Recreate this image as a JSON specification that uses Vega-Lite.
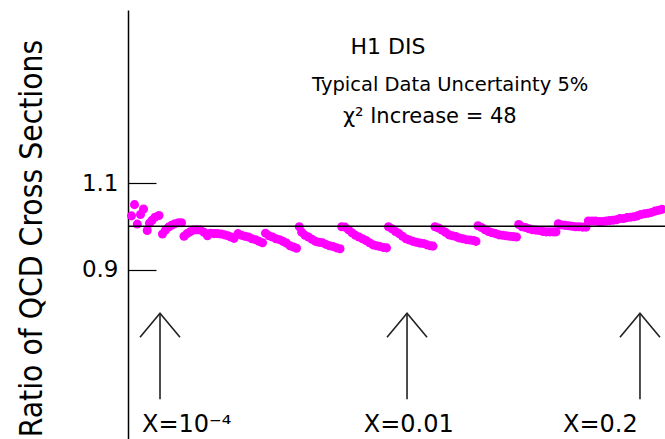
{
  "$schema": "https://vega.github.io/schema/vega-lite/v6.json",
  "autosize": "none",
  "width": 537,
  "height": 429,
  "padding": {"left": 128, "top": 10, "right": 0, "bottom": 0},
  "background": "white",
  "config": {"view": {"stroke": null}},
  "datasets": {
    "ratio": [
      {"u": 1.21, "r": 1.050}, {"u": 2.89, "r": 1.040}, {"u": 0.65, "r": 1.024}, {"u": 2.33, "r": 1.027}, {"u": 1.73, "r": 1.005}, {"u": 3.58, "r": 0.990},
      {"u": 4.00, "r": 1.007}, {"u": 4.47, "r": 1.014}, {"u": 5.03, "r": 1.021}, {"u": 5.77, "r": 1.025},
      {"u": 6.42, "r": 0.982}, {"u": 6.98, "r": 0.991}, {"u": 7.54, "r": 0.998}, {"u": 8.10, "r": 1.002}, {"u": 8.75, "r": 1.006}, {"u": 9.40, "r": 1.008}, {"u": 9.96, "r": 1.008},
      {"u": 10.43, "r": 0.977}, {"u": 10.99, "r": 0.983}, {"u": 11.55, "r": 0.987}, {"u": 12.20, "r": 0.991}, {"u": 12.85, "r": 0.992}, {"u": 13.50, "r": 0.991}, {"u": 14.15, "r": 0.986}, {"u": 14.80, "r": 0.978},
      {"u": 15.36, "r": 0.984}, {"u": 16.01, "r": 0.983}, {"u": 16.67, "r": 0.983}, {"u": 17.32, "r": 0.982}, {"u": 17.97, "r": 0.980}, {"u": 18.62, "r": 0.978}, {"u": 19.18, "r": 0.975}, {"u": 19.74, "r": 0.972},
      {"u": 20.48, "r": 0.983}, {"u": 21.14, "r": 0.979}, {"u": 21.79, "r": 0.977}, {"u": 22.44, "r": 0.975}, {"u": 23.09, "r": 0.971}, {"u": 23.74, "r": 0.969}, {"u": 24.39, "r": 0.965}, {"u": 25.05, "r": 0.962},
      {"u": 25.61, "r": 0.984}, {"u": 26.26, "r": 0.978}, {"u": 26.91, "r": 0.975}, {"u": 27.56, "r": 0.971}, {"u": 28.21, "r": 0.969}, {"u": 28.86, "r": 0.965}, {"u": 29.52, "r": 0.961}, {"u": 30.17, "r": 0.955}, {"u": 30.82, "r": 0.952}, {"u": 31.38, "r": 0.949},
      {"u": 31.90, "r": 0.999}, {"u": 32.35, "r": 0.986}, {"u": 32.96, "r": 0.979}, {"u": 33.61, "r": 0.975}, {"u": 34.26, "r": 0.970}, {"u": 34.92, "r": 0.965}, {"u": 35.57, "r": 0.963}, {"u": 36.22, "r": 0.962}, {"u": 36.87, "r": 0.958}, {"u": 37.52, "r": 0.955}, {"u": 38.18, "r": 0.953}, {"u": 38.83, "r": 0.950}, {"u": 39.48, "r": 0.948},
      {"u": 39.80, "r": 0.999}, {"u": 40.41, "r": 0.998}, {"u": 41.06, "r": 0.992}, {"u": 41.71, "r": 0.985}, {"u": 42.36, "r": 0.979}, {"u": 43.02, "r": 0.975}, {"u": 43.67, "r": 0.971}, {"u": 44.32, "r": 0.967}, {"u": 44.97, "r": 0.962}, {"u": 45.62, "r": 0.957}, {"u": 46.28, "r": 0.955}, {"u": 46.93, "r": 0.953}, {"u": 47.58, "r": 0.951}, {"u": 48.14, "r": 0.950},
      {"u": 48.51, "r": 0.999}, {"u": 49.16, "r": 0.994}, {"u": 49.81, "r": 0.988}, {"u": 50.47, "r": 0.983}, {"u": 51.12, "r": 0.977}, {"u": 51.77, "r": 0.971}, {"u": 52.42, "r": 0.968}, {"u": 53.07, "r": 0.965}, {"u": 53.72, "r": 0.963}, {"u": 54.38, "r": 0.961}, {"u": 55.03, "r": 0.960}, {"u": 55.68, "r": 0.957}, {"u": 56.33, "r": 0.955}, {"u": 56.80, "r": 0.954},
      {"u": 57.17, "r": 0.999}, {"u": 57.82, "r": 0.996}, {"u": 58.47, "r": 0.991}, {"u": 59.12, "r": 0.986}, {"u": 59.78, "r": 0.980}, {"u": 60.43, "r": 0.978}, {"u": 61.08, "r": 0.976}, {"u": 61.73, "r": 0.973}, {"u": 62.38, "r": 0.971}, {"u": 63.04, "r": 0.969}, {"u": 63.69, "r": 0.968}, {"u": 64.34, "r": 0.967}, {"u": 64.80, "r": 0.965},
      {"u": 65.18, "r": 1.001}, {"u": 65.83, "r": 0.997}, {"u": 66.48, "r": 0.992}, {"u": 67.13, "r": 0.988}, {"u": 67.78, "r": 0.985}, {"u": 68.44, "r": 0.983}, {"u": 69.09, "r": 0.980}, {"u": 69.74, "r": 0.979}, {"u": 70.39, "r": 0.978}, {"u": 71.04, "r": 0.977}, {"u": 71.69, "r": 0.976}, {"u": 72.35, "r": 0.975},
      {"u": 72.76, "r": 1.004}, {"u": 73.37, "r": 0.999}, {"u": 74.02, "r": 0.997}, {"u": 74.67, "r": 0.994}, {"u": 75.33, "r": 0.992}, {"u": 75.98, "r": 0.991}, {"u": 76.63, "r": 0.990}, {"u": 77.28, "r": 0.988}, {"u": 77.93, "r": 0.987}, {"u": 78.58, "r": 0.987}, {"u": 79.24, "r": 0.987}, {"u": 79.70, "r": 0.987},
      {"u": 80.13, "r": 1.006}, {"u": 80.73, "r": 1.003}, {"u": 81.38, "r": 1.002}, {"u": 82.03, "r": 1.001}, {"u": 82.68, "r": 1.000}, {"u": 83.33, "r": 0.999}, {"u": 83.98, "r": 0.999}, {"u": 84.64, "r": 0.998}, {"u": 85.29, "r": 0.998},
      {"u": 85.72, "r": 1.012}, {"u": 86.41, "r": 1.012}, {"u": 87.06, "r": 1.012}, {"u": 87.71, "r": 1.011}, {"u": 88.36, "r": 1.011}, {"u": 89.01, "r": 1.012}, {"u": 89.66, "r": 1.013}, {"u": 90.32, "r": 1.014}, {"u": 90.97, "r": 1.015}, {"u": 91.62, "r": 1.018}, {"u": 92.27, "r": 1.018}, {"u": 92.92, "r": 1.020}, {"u": 93.58, "r": 1.021}, {"u": 94.23, "r": 1.022}, {"u": 94.88, "r": 1.024}, {"u": 95.53, "r": 1.027}, {"u": 96.18, "r": 1.029}, {"u": 96.83, "r": 1.030}, {"u": 97.49, "r": 1.032}, {"u": 98.14, "r": 1.035}, {"u": 98.79, "r": 1.037}, {"u": 99.44, "r": 1.039}
    ],
    "marks": [
      {"label": "X=10⁻⁴", "at": 5.96},
      {"label": "X=0.01", "at": 51.96},
      {"label": "X=0.2", "at": 95.34}
    ],
    "one": [{}]
  },
  "layer": [
    {
      "data": {"name": "ratio"},
      "mark": {"type": "point", "filled": true, "size": 82, "color": "#ff00ff", "opacity": 1, "strokeWidth": 0},
      "encoding": {
        "x": {"field": "u", "type": "quantitative", "scale": {"domain": [0, 100], "nice": false, "zero": false}, "axis": null},
        "y": {
          "field": "r", "type": "quantitative",
          "scale": {"domain": [0.5081, 1.5], "nice": false, "zero": false},
          "axis": {
            "title": "Ratio of QCD Cross Sections",
            "titleFont": "DejaVu Sans Condensed, Liberation Sans, sans-serif",
            "titleFontSize": 31.5,
            "titleFontWeight": "normal",
            "titleColor": "black",
            "titleAngle": -90,
            "titleAlign": "center",
            "titleBaseline": "alphabetic",
            "titleX": -87,
            "titleY": 228,
            "values": [0.9, 1.1],
            "format": ".1f",
            "labelFont": "DejaVu Sans",
            "labelFontSize": 23,
            "labelColor": "black",
            "labelPadding": 38,
            "ticks": true,
            "tickSize": -28,
            "tickColor": "black",
            "tickWidth": 1.2,
            "domainColor": "black",
            "domainWidth": 1.5,
            "grid": false
          }
        }
      }
    },
    {
      "data": {"name": "one"},
      "mark": {"type": "rule", "color": "black", "strokeWidth": 1.5},
      "encoding": {"y": {"datum": 1.0}}
    },
    {
      "data": {"name": "marks"},
      "mark": {"type": "rule", "color": "#222222", "strokeWidth": 1.6},
      "encoding": {
        "x": {"field": "at", "type": "quantitative"},
        "y": {"datum": 0.600},
        "y2": {"datum": 0.799}
      }
    },
    {
      "data": {"name": "marks"},
      "mark": {"type": "point", "shape": "M -1 1.2 L 0 0 L 1 1.2", "size": 1600, "filled": false, "color": "#222222", "strokeWidth": 1.6, "opacity": 1},
      "encoding": {
        "x": {"field": "at", "type": "quantitative"},
        "y": {"datum": 0.799}
      }
    },
    {
      "data": {"name": "one"},
      "mark": {"type": "text", "text": "X=10⁻⁴", "font": "DejaVu Sans", "fontSize": 24, "align": "left", "baseline": "middle", "color": "black"},
      "encoding": {"x": {"datum": 2.6}, "y": {"datum": 0.541}}
    },
    {
      "data": {"name": "one"},
      "mark": {"type": "text", "text": "X=0.01", "font": "DejaVu Sans", "fontSize": 24, "align": "left", "baseline": "middle", "color": "black"},
      "encoding": {"x": {"datum": 43.9}, "y": {"datum": 0.541}}
    },
    {
      "data": {"name": "one"},
      "mark": {"type": "text", "text": "X=0.2", "font": "DejaVu Sans", "fontSize": 24, "align": "left", "baseline": "middle", "color": "black"},
      "encoding": {"x": {"datum": 81.0}, "y": {"datum": 0.541}}
    },
    {
      "data": {"name": "one"},
      "mark": {"type": "text", "text": "H1 DIS", "font": "DejaVu Sans", "fontSize": 22, "align": "center", "baseline": "middle", "color": "black"},
      "encoding": {"x": {"datum": 48.4}, "y": {"datum": 1.414}}
    },
    {
      "data": {"name": "one"},
      "mark": {"type": "text", "text": "Typical Data Uncertainty 5%", "font": "DejaVu Sans", "fontSize": 19.5, "align": "center", "baseline": "middle", "color": "black"},
      "encoding": {"x": {"datum": 60.0}, "y": {"datum": 1.326}}
    },
    {
      "data": {"name": "one"},
      "mark": {"type": "text", "text": "χ² Increase = 48", "font": "DejaVu Sans", "fontSize": 21, "align": "center", "baseline": "middle", "color": "black"},
      "encoding": {"x": {"datum": 56.2}, "y": {"datum": 1.252}}
    }
  ]
}
